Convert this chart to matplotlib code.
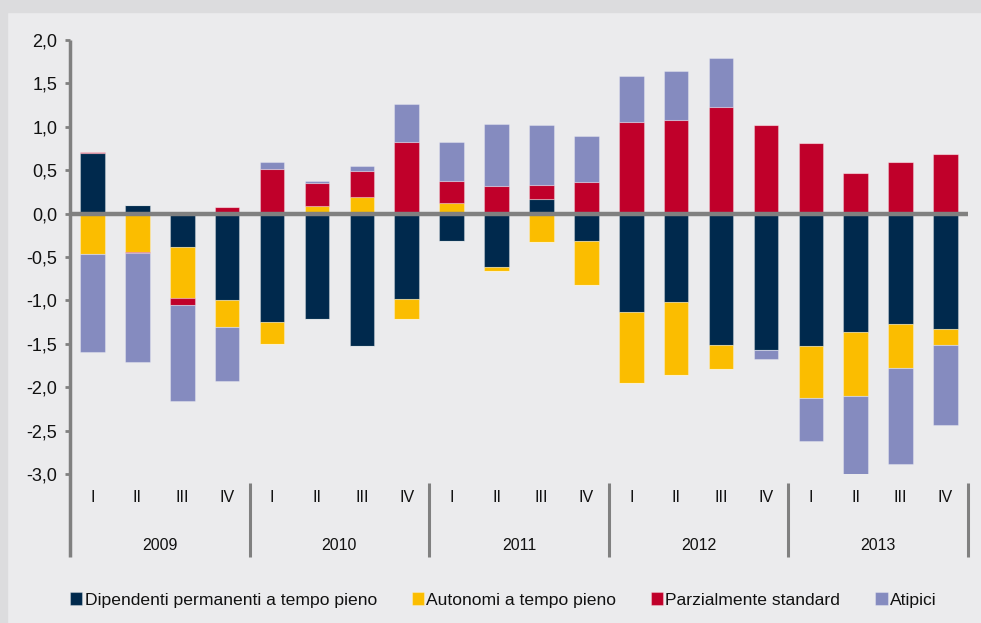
import matplotlib
matplotlib.use("Agg")
import matplotlib.pyplot as plt
import matplotlib.transforms as mtransforms
from matplotlib.patches import Rectangle
import numpy as np

plt.rcParams['font.family'] = ['Liberation Sans', 'DejaVu Sans']

years = ["2009", "2010", "2011", "2012", "2013"]
quarters = ["I", "II", "III", "IV"]

series_names = ["Dipendenti permanenti a tempo pieno", "Autonomi a tempo pieno",
                "Parzialmente standard", "Atipici"]
colors = ["#00294d", "#fbbd00", "#c0002a", "#858bbf"]

dipendenti = [0.70, 0.10, -0.38, -0.99,
              -1.25, -1.22, -1.52, -0.98,
              -0.32, -0.61, 0.17, -0.31,
              -1.135, -1.02, -1.515, -1.575,
              -1.53, -1.36, -1.27, -1.335]
autonomi = [-0.47, -0.44, -0.59, -0.32,
            -0.25, 0.09, 0.19, -0.24,
            0.12, -0.05, -0.33, -0.51,
            -0.82, -0.84, -0.27, 0.0,
            -0.59, -0.74, -0.51, -0.18]
parziali = [0.01, -0.015, -0.08, 0.08,
            0.51, 0.26, 0.30, 0.82,
            0.25, 0.32, 0.16, 0.365,
            1.06, 1.08, 1.23, 1.02,
            0.815, 0.465, 0.60, 0.685]
atipici = [-1.13, -1.26, -1.11, -0.62,
           0.08, 0.03, 0.06, 0.44,
           0.45, 0.71, 0.69, 0.53,
           0.53, 0.56, 0.56, -0.10,
           -0.50, -0.92, -1.10, -0.92]

yticks = [2.0, 1.5, 1.0, 0.5, 0.0, -0.5, -1.0, -1.5, -2.0, -2.5, -3.0]

W, H = 981, 623
fig = plt.figure(figsize=(W / 100, H / 100), dpi=100, facecolor="#ebebed")
# darker outer frame bands (top and left)
fig.patches.append(Rectangle((0, 1 - 12 / H), 1, 12 / H, transform=fig.transFigure,
                             color="#dcdcde", zorder=0))
fig.patches.append(Rectangle((0, 0), 7 / W, 1, transform=fig.transFigure,
                             color="#dcdcde", zorder=0))

left, right = 70 / W, 968 / W
top, bottom = 1 - 40 / H, 1 - 474 / H
ax = fig.add_axes([left, bottom, right - left, top - bottom])
ax.set_facecolor("#ebebed")

n = len(dipendenti)
x = np.arange(n)
data = [np.array(dipendenti), np.array(autonomi), np.array(parziali), np.array(atipici)]
pos_base = np.zeros(n)
neg_base = np.zeros(n)
bw = 0.55
for vals, col, name in zip(data, colors, series_names):
    pos = np.where(vals > 0, vals, 0)
    neg = np.where(vals < 0, vals, 0)
    ax.bar(x, pos, bottom=pos_base, width=bw, color=col,
           edgecolor=(1, 1, 1, 0.3), linewidth=0.8, label=name, zorder=2)
    ax.bar(x, neg, bottom=neg_base, width=bw, color=col,
           edgecolor=(1, 1, 1, 0.3), linewidth=0.8, zorder=2)
    pos_base += pos
    neg_base += neg

ax.set_xlim(-0.5, n - 0.5)
ax.set_ylim(-3.0, 2.0)
ax.set_yticks(yticks)
ax.set_yticklabels([("%.1f" % v).replace(".", ",") for v in yticks], fontsize=13)
ax.tick_params(axis="y", length=3.6, width=2, color="#808080", pad=5.5,
               labelcolor="#111111")
ax.set_xticks([])
for s in ax.spines.values():
    s.set_visible(False)

grey = "#808080"
# zero line
ax.axhline(0, color=grey, lw=3.2, zorder=4)
# left axis line extended into category area
ax.plot([0, 0], [1, -0.191], transform=ax.transAxes, color=grey, lw=2.5,
        clip_on=False, solid_capstyle="butt", zorder=5)

trans = mtransforms.blended_transform_factory(ax.transData, ax.transAxes)
for i in range(n):
    ax.text(x[i], -0.053, quarters[i % 4], transform=trans, ha="center", va="center",
            fontsize=11.5, color="#111111")
for j, yr in enumerate(years):
    ax.text(j * 4 + 1.5, -0.164, yr, transform=trans, ha="center", va="center",
            fontsize=11.5, color="#111111")
    if j > 0:
        ax.plot([j * 4 - 0.5] * 2, [-0.021, -0.191], transform=trans, color=grey,
                lw=2.2, clip_on=False, solid_capstyle="butt")
ax.plot([n - 0.5] * 2, [-0.021, -0.191], transform=trans, color=grey,
        lw=2.2, clip_on=False, solid_capstyle="butt")

handles, labels = ax.get_legend_handles_labels()
fig.legend(handles, labels, loc="center", bbox_to_anchor=(0.513, 0.037), ncol=4,
           frameon=False, fontsize=12.6, handlelength=0.7, handleheight=0.7,
           handletextpad=0.12, columnspacing=2.0, borderaxespad=0,
           labelcolor="#111111")

fig.savefig("out.png", dpi=100, facecolor=fig.get_facecolor())
